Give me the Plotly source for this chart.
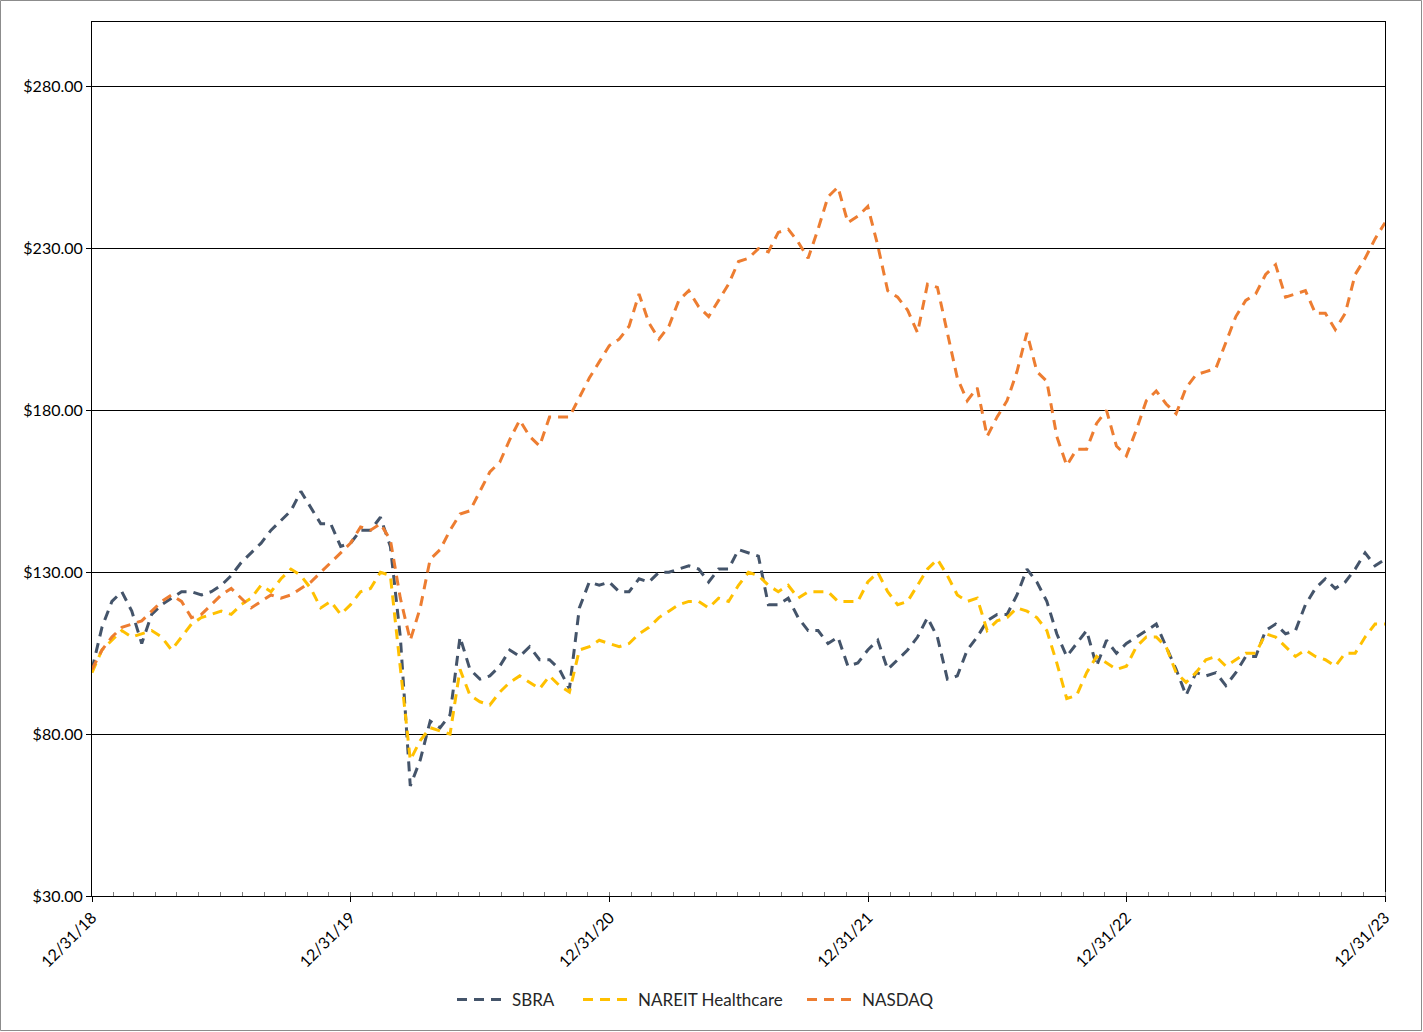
import pandas as pd
import plotly.graph_objects as go

# Biweekly values, 12/31/18 -> 12/31/23 (131 points)
sbra = [
    100, 113, 121, 124, 118, 108, 117, 120, 122, 124, 124, 123, 124, 126, 129, 133,
    136, 139, 143, 146, 149, 155, 150, 145, 145, 138, 139,
    143, 143, 147, 138, 110, 64, 72, 84, 82, 86, 110, 100, 97, 98, 101, 106, 104,
    107, 103, 103, 100, 94, 119, 127, 126, 127,
    124, 124, 128, 127, 130, 130, 131, 132, 131, 127, 131, 131, 137, 136, 135, 120,
    120, 122, 116, 112, 112, 108, 110, 101, 102, 106,
    109, 100, 103, 106, 110, 116, 110, 97, 98, 106, 110, 115, 117, 117, 123, 131,
    127, 121, 111, 104, 108, 112, 101, 109, 105, 108,
    110, 112, 114, 107, 100, 92, 99, 98, 99, 95, 99, 104, 104, 112, 114, 111,
    112, 120, 125, 128, 125, 127, 131, 136, 132, 134,
]
nareit = [
    99, 106, 109, 112, 110, 111, 112, 110, 106, 110, 114, 116, 117, 118, 117, 120,
    122, 126, 124, 128, 131, 129, 125, 119, 121, 117, 120,
    124, 125, 130, 129, 100, 72, 78, 82, 81, 80, 100, 92, 90, 89, 93, 96, 98,
    96, 94, 98, 95, 93, 106, 107, 109, 108,
    107, 108, 111, 113, 116, 118, 120, 121, 121, 119, 122, 121, 126, 130, 129, 126,
    124, 126, 122, 124, 124, 124, 121, 121, 121, 127,
    130, 124, 120, 121, 126, 131, 134, 129, 123, 121, 122, 112, 115, 116, 119, 118,
    116, 112, 102, 91, 92, 99, 104, 102, 100, 101,
    107, 110, 110, 107, 99, 96, 99, 103, 104, 101, 103, 105, 105, 111, 110, 107,
    104, 106, 104, 103, 101, 105, 105, 110, 114, 114,
]
nasdaq = [
    100, 106, 110, 113, 114, 115, 118, 121, 123, 121, 116, 117, 120, 123, 125, 122,
    119, 121, 123, 122, 123, 125, 127, 130, 133, 136, 139,
    144, 143, 145, 140, 122, 109, 119, 134, 137, 143, 148, 149, 155, 161, 164, 171, 177,
    172, 169, 178, 178, 178, 184, 190, 195, 200,
    202, 206, 216, 207, 202, 206, 214, 217, 212, 209, 214, 219, 226, 227, 230, 229,
    235, 236, 232, 227, 236, 246, 249, 238, 240, 243,
    231, 217, 215, 211, 204, 219, 218, 204, 190, 183, 187, 172, 178, 183, 192, 204,
    192, 189, 172, 163, 168, 168, 176, 180, 169, 166,
    174, 183, 186, 182, 179, 187, 191, 192, 193, 201, 209, 214, 216, 222, 225, 215,
    216, 217, 210, 210, 205, 210, 222, 227, 233, 238,
]
series_names = ["SBRA", "NAREIT Healthcare", "NASDAQ"]
year_ticks = ["2018-12-31", "2019-12-31", "2020-12-31", "2021-12-31", "2022-12-31", "2023-12-31"]
year_labels = ["12/31/18", "12/31/19", "12/31/20", "12/31/21", "12/31/22", "12/31/23"]
y_ticks = [30, 80, 130, 180, 230, 280]
y_labels = ["$30.00", "$80.00", "$130.00", "$180.00", "$230.00", "$280.00"]

dates = pd.date_range(year_ticks[0], year_ticks[-1], periods=len(sbra))
month_ticks = pd.date_range("2019-01-31", "2023-12-31", freq="ME")

colors = {"SBRA": "#44546A", "NAREIT Healthcare": "#FFC000", "NASDAQ": "#ED7D31"}

W, H = 1423, 1032
ml, mr, mt, mb = 92, 38, 22, 136
pw, ph = W - ml - mr, H - mt - mb

# one legend per series so the entries can be spaced like the original
legend_keys = ["legend", "legend2", "legend3"]
legend_left_px = [452, 578, 802]

fig = go.Figure()
for name, vals, lg in zip(series_names, [sbra, nareit, nasdaq], legend_keys):
    fig.add_trace(go.Scatter(
        x=dates, y=vals, mode="lines", name=name, legend=lg,
        line=dict(color=colors[name], width=3, dash="10px,7px"),
    ))

legend_style = dict(
    orientation="h", xanchor="left", yanchor="middle",
    y=-(1000 - (H - mb)) / ph,
    font=dict(size=17, color="#262626"), itemwidth=50,
    bgcolor="rgba(0,0,0,0)",
)
legend_layout = {
    lg: dict(legend_style, x=(px - ml) / pw) for lg, px in zip(legend_keys, legend_left_px)
}

fig.update_layout(
    width=W, height=H,
    margin=dict(l=ml, r=mr, t=mt, b=mb),
    paper_bgcolor="white", plot_bgcolor="white",
    font=dict(family="Lato, 'Open Sans', sans-serif", color="#000000", size=16),
    showlegend=True,
    shapes=[dict(
        type="rect", xref="paper", yref="paper",
        x0=-(ml - 0.5) / pw, x1=1 + (mr - 1.5) / pw, y0=-(mb - 1.5) / ph, y1=1 + (mt - 0.5) / ph,
        line=dict(color="#8C8C8C", width=1), fillcolor="rgba(0,0,0,0)", layer="below",
    )],
    **legend_layout,
)
fig.update_xaxes(
    type="date", range=[year_ticks[0], year_ticks[-1]],
    tickvals=year_ticks, ticktext=year_labels, tickangle=-45,
    ticks="outside", ticklen=5, tickcolor="black",
    showgrid=False, showline=True, linecolor="black", linewidth=1, mirror=True,
    minor=dict(tickvals=list(month_ticks), ticks="inside", ticklen=4, tickcolor="#808080", showgrid=False),
    tickfont=dict(size=16),
)
fig.update_yaxes(
    range=[30, 300], tickvals=y_ticks, ticktext=y_labels,
    ticks="outside", ticklen=5, tickcolor="black",
    showgrid=True, gridcolor="black", gridwidth=1, zeroline=False,
    showline=True, linecolor="black", linewidth=1, mirror=True,
    tickfont=dict(size=16),
)

fig.write_html(
    "out.html",
    config={"displayModeBar": False},
    post_script="document.body.style.margin='0px';",
)
